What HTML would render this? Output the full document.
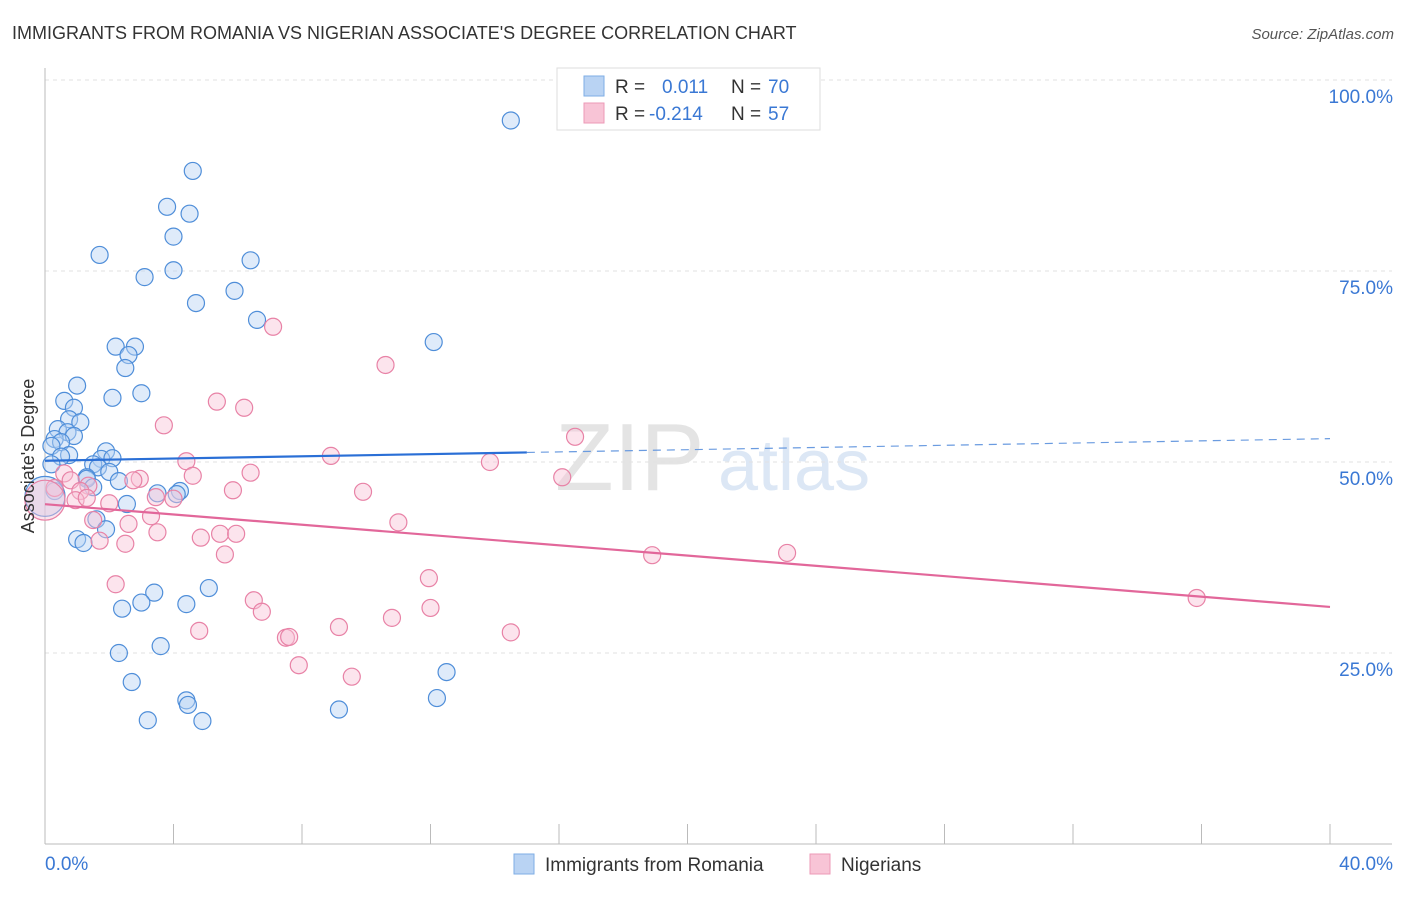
<!DOCTYPE html>
<html><head><meta charset="utf-8"><style>
body{margin:0;background:#fff;font-family:"Liberation Sans",sans-serif;}
svg text{font-family:"Liberation Sans",sans-serif;}
</style></head><body>
<svg id="chart" width="1406" height="892" xmlns="http://www.w3.org/2000/svg">
<text x="12" y="39" font-size="18" fill="#333">IMMIGRANTS FROM ROMANIA VS NIGERIAN ASSOCIATE'S DEGREE CORRELATION CHART</text>
<text x="1394" y="39" font-size="15" fill="#555" text-anchor="end" font-style="italic">Source: ZipAtlas.com</text>
<g>
<text x="555" y="490" font-size="96" fill="#e4e4e4" font-family="Liberation Serif">ZIP</text>
<text x="718" y="490" font-size="72" fill="#dce7f5">atlas</text>
</g>
<g id="grid"></g>
<g id="axes"></g>
<g id="marks"></g>
<g>
<rect x="557" y="68" width="263" height="62" fill="#fff" stroke="#ddd"/>
<rect x="584" y="76" width="20" height="20" fill="#b9d3f3" stroke="#7eaee6"/>
<rect x="584" y="103" width="20" height="20" fill="#f8c4d6" stroke="#ec9ab7"/>
<text x="615" y="93" font-size="19" fill="#333">R =</text>
<text x="662" y="93" font-size="19" fill="#3a78d4">0.011</text>
<text x="731" y="93" font-size="19" fill="#333">N =</text>
<text x="768" y="93" font-size="19" fill="#3a78d4">70</text>
<text x="615" y="120" font-size="19" fill="#333">R =</text>
<text x="649" y="120" font-size="19" fill="#3a78d4">-0.214</text>
<text x="731" y="120" font-size="19" fill="#333">N =</text>
<text x="768" y="120" font-size="19" fill="#3a78d4">57</text>
</g>
<g>
<rect x="514" y="854" width="20" height="20" fill="#b9d3f3" stroke="#7eaee6"/>
<text x="545" y="871" font-size="19" fill="#333">Immigrants from Romania</text>
<rect x="810" y="854" width="20" height="20" fill="#f8c4d6" stroke="#ec9ab7"/>
<text x="841" y="871" font-size="19" fill="#333">Nigerians</text>
</g>
<text transform="translate(34,456) rotate(-90)" font-size="18" fill="#333" text-anchor="middle">Associate's Degree</text>
</svg>
<script>
const yTicks=[100,75,50,25];
const yTickLabels=["100.0%","75.0%","50.0%","25.0%"];
const xTickLabels=["0.0%","40.0%"];
const romaniaX=[14.5,4.6,3.8,4.5,4.0,1.7,6.4,4.0,3.1,4.7,5.9,6.6,12.1,2.2,2.8,2.6,2.5,1.0,3.0,2.1,0.6,0.9,0.75,1.1,0.4,0.7,0.9,0.3,0.5,0.2,1.9,0.75,0.5,1.75,2.1,1.5,0.2,1.65,2.0,1.3,1.3,2.3,1.5,0.3,4.2,3.5,4.1,2.55,1.6,1.9,1.0,1.2,5.1,3.4,3.0,2.4,4.4,3.6,2.3,12.5,2.7,4.4,4.45,12.2,9.15,3.2,4.9,0.0];
const romaniaY=[94.7,88.1,83.4,82.5,79.5,77.1,76.4,75.1,74.2,70.8,72.4,68.6,65.7,65.1,65.1,64.0,62.3,60.0,59.0,58.4,58.0,57.1,55.6,55.2,54.3,53.9,53.4,53.0,52.6,52.1,51.4,50.9,50.7,50.4,50.5,49.7,49.7,49.3,48.7,48.0,47.8,47.5,46.7,46.2,46.2,45.9,45.8,44.5,42.5,41.2,39.9,39.4,33.5,32.9,31.6,30.8,31.4,25.9,25.0,22.5,21.2,18.8,18.2,19.1,17.6,16.2,16.1,45.5];
const nigerX=[7.1,10.6,5.35,6.2,3.7,16.5,8.9,13.85,4.4,6.4,4.6,2.95,2.75,16.1,0.6,0.8,9.9,5.85,1.35,0.3,1.1,3.45,4.0,0.95,1.3,2.0,3.3,1.5,2.6,11.0,3.5,4.85,5.45,5.95,1.7,2.5,5.6,18.9,23.1,2.2,11.95,6.5,6.75,12.0,10.8,9.15,4.8,14.5,7.5,7.6,7.9,9.55,35.85,0.0];
const nigerY=[67.7,62.7,57.9,57.1,54.8,53.3,50.8,50.0,50.1,48.6,48.2,47.8,47.6,48.0,48.5,47.6,46.1,46.3,46.9,46.6,46.2,45.4,45.2,45.0,45.3,44.6,42.9,42.4,41.9,42.1,40.8,40.1,40.6,40.6,39.7,39.3,37.9,37.8,38.1,34.0,34.8,31.9,30.4,30.9,29.6,28.4,27.9,27.7,27.0,27.1,23.4,21.9,32.2,45.0];
const S='http://www.w3.org/2000/svg';
const X=v=>45+v/40*1285, Y=v=>844-v/100*764;
function mk(t,a,p){const e=document.createElementNS(S,t);for(const k in a)e.setAttribute(k,a[k]);p.appendChild(e);return e;}
const grid=document.getElementById('grid'),axes=document.getElementById('axes'),marks=document.getElementById('marks');
yTicks.forEach((t,i)=>{
 const l=mk('line',{x1:45,x2:1392,y1:Y(t),y2:Y(t),stroke:'#e2e2e2','stroke-dasharray':'4,4'},grid);
 
 
 const tx=mk('text',{x:1393,y:Y(t)+23,'font-size':19,fill:'#3a78d4','text-anchor':'end'},axes);tx.textContent=yTickLabels[i];
 
 
});
mk('line',{x1:45,x2:45,y1:68,y2:844,stroke:'#bbb'},axes);
mk('line',{x1:45,x2:1392,y1:844,y2:844,stroke:'#bbb'},axes);
for(let i=0;i<=10;i++){const l=mk('line',{x1:X(i*4),x2:X(i*4),y1:824,y2:844,stroke:'#bbb'},axes);
 
 }
let t0=mk('text',{x:45,y:870,'font-size':19,fill:'#3a78d4'},axes);t0.textContent=xTickLabels[0];


let t1=mk('text',{x:1393,y:870,'font-size':19,fill:'#3a78d4','text-anchor':'end'},axes);t1.textContent=xTickLabels[1];


function dots(xs,ys,fill,stroke,name){xs.forEach((x,i)=>{
 const big=i===xs.length-1;
 const c=mk('circle',{cx:X(x),cy:Y(ys[i]),r:big?20:8.5,fill:fill,'fill-opacity':0.45,stroke:stroke,'stroke-width':1.2},marks);
 
 
});}
dots(romaniaX,romaniaY,'#b9d3f3','#4f8ed9','romania-point');
dots(nigerX,nigerY,'#f8c4d6','#e882a6','nigerian-point');
function fit(xs,ys){const n=xs.length;let mx=0,my=0;xs.forEach((x,i)=>{mx+=x;my+=ys[i];});mx/=n;my/=n;let sxy=0,sxx=0;xs.forEach((x,i)=>{sxy+=(x-mx)*(ys[i]-my);sxx+=(x-mx)**2;});const b=sxy/sxx;return [my-b*mx,b];}
const [ra,rb]=fit(romaniaX,romaniaY);
let l=mk('line',{x1:X(0),y1:Y(ra),x2:X(15),y2:Y(ra+rb*15),stroke:'#2a6fd6','stroke-width':2.2},marks);


l=mk('line',{x1:X(15),y1:Y(ra+rb*15),x2:X(40),y2:Y(ra+rb*40),stroke:'#6a9be0','stroke-width':1.2,'stroke-dasharray':'8,6'},marks);


const [na,nb]=fit(nigerX,nigerY);
l=mk('line',{x1:X(0),y1:Y(na),x2:X(40),y2:Y(na+nb*40),stroke:'#e2679a','stroke-width':2.2},marks);


</script>
</body></html>
